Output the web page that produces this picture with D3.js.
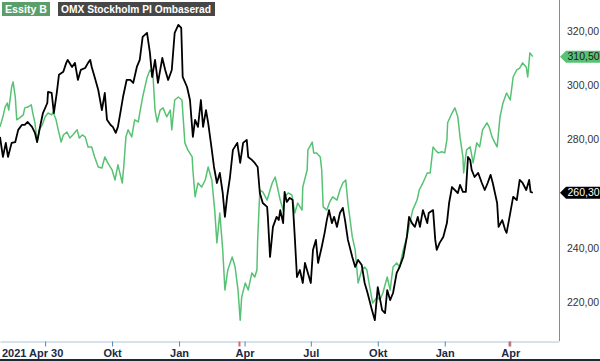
<!DOCTYPE html>
<html>
<head>
<meta charset="utf-8">
<style>
	body { margin: 0; background: #fff; }
	text { font-family: "Liberation Sans", Arial, sans-serif; }
	.line { fill: none; stroke-linejoin: round; }
</style>
</head>
<body>
<div id="chart-container"></div>

<script src="https://cdn.jsdelivr.net/npm/d3@7"></script>
<script>
	// time range of the chart, and data as day offsets from the start date
	const startDate = "2021-04-30";
	const endDate = "2023-06-07";

	const seriesNames = ["Essity B", "OMX Stockholm PI Ombaserad"];

	const essityDays = [0,4,7,10,12,16,18,21,23,27,32,34,38,43,45,48,51,54,58,62,66,71,73,77,80,84,87,92,96,100,106,109,113,117,121,126,130,135,140,144,148,154,158,162,168,170,173,176,181,185,190,192,196,202,206,210,213,216,220,224,229,234,236,240,245,250,254,258,264,265,268,272,277,282,286,291,295,298,302,306,309,313,319,323,327,330,332,337,341,346,350,353,354,357,361,367,374,378,382,385,389,391,396,401,405,409,415,416,422,423,429,431,435,440,442,444,449,453,457,463,467,471,475,478,484,488,492,497,501,504,508,512,518,522,526,532,536,540,545,549,554,559,563,567,573,576,581,587,591,595,598,602,607,611,614,615,621,625,629,632,636,637,641,646,650,655,659,663,669,672,676,680,683,687,691,696,701,705,710,714,718,723,725,728,732];
	const essityValues = [284.6,288.3,291.9,293.4,290.8,299.3,301.2,295.6,287.2,287.9,289.0,291.6,291.9,292.7,289.7,286.1,279.0,283.5,285.3,288.3,289.7,289.0,290.1,287.2,283.5,279.0,281.6,282.7,280.5,281.6,283.5,280.5,281.6,280.9,277.2,277.2,273.5,269.8,269.4,273.5,271.3,268.7,265.0,270.6,263.9,269.8,280.9,283.5,280.9,287.2,286.4,289.7,295.6,302.7,305.6,304.5,290.8,286.4,290.8,291.6,288.3,290.8,283.5,294.5,295.6,294.5,278.7,276.1,273.5,268.7,258.8,263.9,262.4,265.0,269.8,265.0,253.9,241.8,252.8,239.2,224.4,231.8,236.6,232.9,224.4,213.3,221.8,227.0,224.4,230.7,229.2,231.8,242.9,261.3,260.6,257.6,263.9,266.1,261.3,257.6,253.9,258.8,260.2,259.5,252.8,256.5,253.9,262.4,268.7,276.1,279.0,275.0,275.0,273.5,268.7,255.1,253.9,256.9,258.8,257.6,261.3,263.9,265.0,256.5,244.0,239.2,227.0,231.8,232.9,231.8,225.5,219.6,221.8,220.7,223.3,229.2,224.4,232.9,234.4,232.9,239.2,244.0,249.1,253.9,257.6,261.3,263.9,267.6,267.6,277.2,276.1,275.0,275.4,275.0,279.8,286.1,289.7,291.6,288.3,280.9,273.5,267.6,276.1,277.2,271.3,278.7,277.2,283.5,286.1,284.6,280.9,278.7,277.2,288.3,293.4,297.1,294.5,303.0,305.6,306.3,308.2,306.7,303.0,311.9,310.5];

	const omxDays = [0,4,8,11,16,21,25,30,34,38,44,48,51,55,59,65,66,71,74,78,81,87,91,93,99,103,107,111,117,121,124,126,130,135,140,144,147,152,155,159,162,166,169,174,179,183,188,192,196,202,206,209,213,217,223,227,231,236,240,245,249,251,257,261,265,268,272,276,279,283,286,291,294,298,302,306,309,312,316,320,326,330,334,339,341,346,350,354,357,361,367,368,371,375,380,383,385,389,391,394,398,402,405,408,412,416,419,423,427,430,434,437,442,446,449,452,456,459,463,467,471,474,478,484,488,492,497,501,505,511,515,519,525,529,532,536,540,545,549,554,559,562,566,570,574,577,581,587,589,595,598,600,604,609,614,617,621,625,629,632,636,640,643,646,648,652,657,662,666,670,674,677,683,685,690,694,696,701,705,710,714,718,723,727,729,732];
	const omxValues = [280.9,273.5,278.7,273.5,278.7,279.0,283.5,285.3,285.3,286.4,284.6,282.4,279.0,284.6,289.7,293.4,297.5,297.1,289.7,297.1,303.8,304.9,308.2,309.3,306.7,308.2,301.9,305.6,306.3,308.2,309.3,306.7,303.0,298.2,290.8,297.1,287.2,285.3,284.6,282.4,284.6,290.8,295.6,301.9,301.9,300.8,306.7,309.3,317.8,319.3,311.9,303.0,309.3,300.8,310.0,305.6,301.9,305.6,319.3,322.2,321.1,303.0,299.3,294.5,280.9,287.2,284.6,294.5,284.6,290.8,286.1,276.1,269.8,263.9,267.6,260.2,251.4,258.8,266.1,276.1,278.7,271.3,278.7,279.8,273.5,272.4,271.3,269.8,260.2,256.5,255.1,251.4,236.6,247.7,251.4,250.2,253.9,249.1,260.6,256.9,258.4,257.6,244.0,229.2,231.8,227.0,234.4,230.7,227.0,239.2,242.9,234.4,240.3,245.5,250.2,253.9,249.1,251.4,247.7,252.8,254.7,250.2,242.9,236.6,232.9,235.5,233.6,227.0,223.3,217.0,213.3,225.5,217.0,215.9,224.4,220.7,223.3,230.7,232.9,236.6,244.0,251.4,249.1,247.7,251.4,247.7,253.9,249.1,252.8,253.9,242.9,239.2,241.8,244.0,249.1,256.5,262.4,261.3,260.2,263.2,260.6,260.6,273.5,272.4,268.7,266.1,267.6,263.9,261.3,263.9,266.9,263.9,256.5,247.7,250.2,246.6,245.5,252.8,258.8,257.6,265.0,263.9,261.3,265.0,260.6,260.3];

	const yTicks = [220, 240, 260, 280, 300, 320];
	const yDomain = [205.6, 331.4];
	const xTickDates = ["2021-07-01", "2021-10-01", "2022-01-01", "2022-04-01", "2022-07-01", "2022-10-01", "2023-01-01", "2023-04-01"];
	const xTickLabels = ["", "Okt", "Jan", "Apr", "Jul", "Okt", "Jan", "Apr"];
	const firstLabel = "2021 Apr 30";
	const markerDates = ["2022-03-25", "2023-03-31"];

	// chart dimensions
	const svgWidth = 600;
	const svgHeight = 361;
	const plotWidth = 559;
	const plotHeight = 341;

	const parse = d3.utcParse("%Y-%m-%d");
	const start = parse(startDate);
	const toDate = d => d3.utcDay.offset(start, d);

	const essity = essityDays.map((d, i) => ({ date: toDate(d), value: essityValues[i] }));
	const omx = omxDays.map((d, i) => ({ date: toDate(d), value: omxValues[i] }));

	const locale = d3.formatLocale({ decimal: ",", thousands: " ", grouping: [3], currency: ["", " kr"] });
	const fmt = locale.format(".2f");

	const svg = d3.select("#chart-container")
		.append("svg")
		.attr("width", svgWidth)
		.attr("height", svgHeight);

	const x = d3.scaleUtc().domain([start, parse(endDate)]).range([0, plotWidth]);
	const y = d3.scaleLinear().domain(yDomain).range([plotHeight, 0]);

	const line = d3.line()
		.x(d => x(d.date))
		.y(d => y(d.value));

	// right border of the plot
	svg.append("line")
		.attr("x1", plotWidth + 0.5).attr("x2", plotWidth + 0.5)
		.attr("y1", 0).attr("y2", plotHeight)
		.attr("stroke", "#6f93ad");

	// lines
	svg.append("path")
		.datum(essity)
		.attr("class", "line")
		.attr("stroke", "#58c274")
		.attr("stroke-width", 1.5)
		.attr("d", line);

	svg.append("path")
		.datum(omx)
		.attr("class", "line")
		.attr("stroke", "#000")
		.attr("stroke-width", 1.8)
		.attr("d", line);

	// x-axis
	const xAxis = svg.append("g")
		.attr("transform", `translate(0, ${plotHeight + 0.5})`)
		.call(d3.axisBottom(x)
			.tickValues(xTickDates.map(parse))
			.tickSize(5)
			.tickSizeOuter(0)
			.tickFormat((d, i) => xTickLabels[i]));

	xAxis.select(".domain").attr("stroke", "#a9c6d8");
	xAxis.selectAll(".tick line").attr("stroke", "#4f88ad");
	xAxis.selectAll("text")
		.attr("fill", "#1b2a44")
		.style("font-size", "11px")
		.style("font-weight", "bold");

	xAxis.append("text")
		.attr("x", 2)
		.attr("y", 8)
		.attr("dy", "0.71em")
		.attr("text-anchor", "start")
		.attr("fill", "#1b2a44")
		.style("font-size", "11px")
		.style("font-weight", "bold")
		.text(firstLabel);

	// red event markers on the axis
	xAxis.selectAll(".marker")
		.data(markerDates.map(parse))
		.join("line")
		.attr("class", "marker")
		.attr("x1", d => x(d)).attr("x2", d => x(d))
		.attr("y1", 0).attr("y2", 5)
		.attr("stroke", "#e8606a")
		.attr("stroke-width", 2);

	// y-axis labels on the right
	const yAxis = svg.append("g")
		.attr("transform", `translate(${plotWidth}, 0)`)
		.call(d3.axisRight(y)
			.tickValues(yTicks)
			.tickSize(0)
			.tickPadding(8)
			.tickFormat(fmt));

	yAxis.select(".domain").remove();
	yAxis.selectAll("text")
		.attr("fill", "#333")
		.style("font-size", "10.5px");

	// last value tags
	const tags = [
		{ value: essityValues[essityValues.length - 1], fill: "#58c274", color: "#1a1a1a" },
		{ value: omxValues[omxValues.length - 1], fill: "#000", color: "#fff" }
	];

	const tag = svg.selectAll(".tag")
		.data(tags)
		.join("g")
		.attr("class", "tag")
		.attr("transform", d => `translate(${plotWidth + 1}, ${y(d.value)})`);

	tag.append("path")
		.attr("d", "M0,0 L6,-6 L41,-6 L41,6 L6,6 Z")
		.attr("fill", d => d.fill);

	tag.append("text")
		.attr("x", 7.5)
		.attr("dy", "0.35em")
		.attr("fill", d => d.color)
		.style("font-size", "10.5px")
		.text(d => fmt(d.value));

	// legend
	const legend = [
		{ name: seriesNames[0], x: 2, w: 48, tw: 42, fill: "#5a9e6c" },
		{ name: seriesNames[1], x: 58, w: 157, tw: 150, fill: "#474747" }
	];

	const leg = svg.selectAll(".legend")
		.data(legend)
		.join("g")
		.attr("class", "legend");

	leg.append("rect")
		.attr("x", d => d.x)
		.attr("y", 2)
		.attr("width", d => d.w)
		.attr("height", 14)
		.attr("fill", d => d.fill);

	leg.append("text")
		.attr("x", d => d.x + 3)
		.attr("y", 13)
		.attr("fill", "#fff")
		.attr("textLength", d => d.tw)
		.attr("lengthAdjust", "spacingAndGlyphs")
		.style("font-size", "11px")
		.style("font-weight", "bold")
		.text(d => d.name);

	// dark bottom rule
	svg.append("rect")
		.attr("x", 0)
		.attr("y", 359)
		.attr("width", svgWidth)
		.attr("height", 2)
		.attr("fill", "#1d2a36");
</script>
</body>
</html>
